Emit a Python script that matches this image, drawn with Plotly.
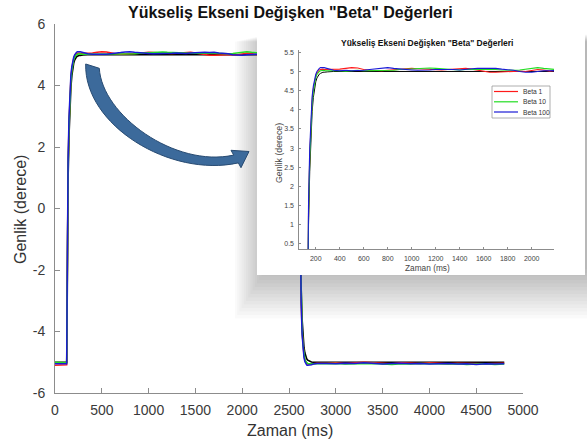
import plotly.graph_objects as go

W, H = 587, 445
FONT = "Liberation Sans, Arial, sans-serif"

# ---------------- data ----------------
series_names = ["Beta 1", "Beta 10", "Beta 100"]
series_colors = ["#ff1a1a", "#22dd22", "#1a1ad6"]
reference_color = "#000000"

time_rise = [0, 60, 125, 130, 135, 140, 150, 160, 170, 180, 190, 200, 210,
             220, 230, 240, 250, 260, 270, 280, 290]
time_high = [300, 350, 400, 450, 500, 550, 600, 650, 700, 750,
             800, 850, 900, 950, 1000, 1050, 1100, 1150, 1200, 1250,
             1300, 1350, 1400, 1450, 1500, 1550, 1600, 1650, 1700, 1750,
             1800, 1850, 1900, 1950, 2000, 2050, 2100, 2150, 2200, 2250,
             2300, 2350, 2400, 2450, 2500, 2550, 2600]
time_fall = [2610, 2620, 2630, 2640, 2650, 2660, 2670, 2680, 2690, 2700,
             2720, 2740, 2760, 2780, 2800]
time_low = [2900, 3000, 3100, 3200, 3300, 3400, 3500, 3600, 3700, 3800,
            3900, 4000, 4100, 4200, 4300, 4400, 4500, 4600, 4700, 4800]

# Beta 1 (red)
beta1_rise = [-5.10, -5.08, -5.08, -2.8, 0.0, 1.4, 2.8, 3.7, 4.25, 4.55, 4.75,
              4.88, 4.96, 5.01, 5.04, 5.05, 5.06, 5.06, 5.05, 5.05, 5.05]
beta1_high = [5.05, 5.05, 5.06, 5.08, 5.10, 5.09, 5.05, 5.03, 5.02, 5.02,
              5.03, 5.04, 5.05, 5.07, 5.08, 5.07, 5.06, 5.05, 5.05, 5.04,
              5.05, 5.06, 5.07, 5.08, 5.06, 5.03, 5.00, 4.98, 4.98, 4.99,
              5.00, 5.00, 5.01, 5.00, 5.02, 5.05, 5.04, 5.01, 5.02, 5.04,
              5.06, 5.03, 5.04, 5.02, 5.05, 5.03, 5.03]
beta1_fall = [3.5, -1.4, -3.0, -4.0, -4.5, -4.78, -4.92, -5.0, -5.04, -5.06,
              -5.07, -5.06, -5.05, -5.04, -5.03]
beta1_low = [-5.03, -5.02, -5.04, -5.03, -5.00, -5.02, -5.03, -5.05, -5.02, -5.03,
             -5.04, -5.02, -5.03, -5.05, -5.03, -5.04, -5.03, -5.05, -5.04, -5.03]

# Beta 10 (green)
beta10_rise = [-5.00, -5.02, -5.02, -2.9, -0.1, 1.3, 2.7, 3.6, 4.15, 4.48, 4.70,
               4.84, 4.92, 4.97, 5.00, 5.02, 5.03, 5.03, 5.03, 5.02, 5.02]
beta10_high = [5.03, 5.02, 5.02, 5.01, 5.02, 5.03, 5.02, 5.02, 5.03, 5.02,
               5.02, 5.03, 5.05, 5.06, 5.07, 5.07, 5.08, 5.09, 5.08, 5.07,
               5.06, 5.05, 5.04, 5.05, 5.05, 5.06, 5.05, 5.06, 5.05, 5.04,
               5.03, 5.03, 5.04, 5.06, 5.09, 5.10, 5.08, 5.06, 5.05, 5.07,
               5.08, 5.06, 5.05, 5.04, 5.06, 5.08, 5.05]
beta10_fall = [3.6, -1.2, -2.9, -3.9, -4.45, -4.74, -4.9, -4.98, -5.02, -5.04,
               -5.05, -5.05, -5.04, -5.03, -5.03]
beta10_low = [-5.05, -5.04, -5.06, -5.05, -5.03, -5.04, -5.06, -5.07, -5.05, -5.06,
              -5.04, -5.05, -5.07, -5.06, -5.05, -5.07, -5.06, -5.05, -5.07, -5.06]

# Beta 100 (blue)
beta100_rise = [-5.05, -5.05, -5.05, -2.5, 0.2, 1.6, 3.0, 3.85, 4.35, 4.62, 4.80,
                4.92, 5.00, 5.05, 5.08, 5.10, 5.11, 5.10, 5.10, 5.09, 5.08]
beta100_high = [5.06, 5.03, 5.02, 5.03, 5.02, 5.02, 5.03, 5.05, 5.07, 5.09,
                5.10, 5.08, 5.06, 5.05, 5.04, 5.03, 5.03, 5.04, 5.05, 5.05,
                5.06, 5.05, 5.04, 5.06, 5.07, 5.08, 5.08, 5.07, 5.08, 5.06,
                5.05, 5.03, 5.00, 4.98, 4.98, 5.00, 5.02, 5.02, 5.03, 5.04,
                5.03, 5.02, 5.04, 5.03, 5.02, 5.03, 5.02]
beta100_fall = [3.3, -1.6, -3.1, -4.1, -4.6, -4.85, -4.98, -5.05, -5.09, -5.10,
                -5.10, -5.08, -5.06, -5.05, -5.04]
beta100_low = [-5.04, -5.05, -5.03, -5.04, -5.02, -5.05, -5.06, -5.04, -5.03, -5.05,
               -5.04, -5.06, -5.05, -5.04, -5.06, -5.05, -5.07, -5.05, -5.06, -5.05]

# reference (black)
ref_rise = [-5.00, -5.00, -5.00, -3.2, -0.4, 1.0, 2.4, 3.35, 3.95, 4.32, 4.57,
            4.73, 4.83, 4.89, 4.93, 4.95, 4.97, 4.98, 4.98, 4.99, 4.99]
ref_high = [4.99, 5.00, 5.00, 5.00, 5.00, 5.00, 5.01, 5.00, 5.00, 5.00,
            5.01, 5.00, 5.00, 5.00, 5.00, 5.01, 5.00, 5.00, 5.00, 5.00,
            5.01, 5.00, 5.00, 5.00, 5.00, 5.00, 5.01, 5.00, 5.00, 5.00,
            5.00, 5.00, 5.01, 5.00, 5.00, 5.00, 5.00, 5.00, 5.01, 5.00,
            5.00, 5.00, 5.00, 5.00, 5.01, 5.00, 5.00]
ref_fall = [3.8, -0.9, -2.6, -3.6, -4.2, -4.52, -4.7, -4.82, -4.89, -4.93,
            -4.97, -4.99, -5.00, -5.00, -5.00]
ref_low = [-5.00, -5.00, -4.99, -5.00, -4.98, -5.00, -4.99, -4.98, -5.00, -5.00,
           -4.99, -5.00, -5.00, -4.99, -5.00, -5.00, -4.99, -5.00, -5.00, -5.00]

main_title = 'Yükseliş Ekseni Değişken "Beta" Değerleri'
x_title = "Zaman (ms)"
y_title = "Genlik (derece)"

main_xticks = [0, 500, 1000, 1500, 2000, 2500, 3000, 3500, 4000, 4500, 5000]
main_yticks = [-6, -4, -2, 0, 2, 4, 6]
main_yticklabels = ["-6", "-4", "-2", "0", "2", "4", "6"]
inset_xticks = [200, 400, 600, 800, 1000, 1200, 1400, 1600, 1800, 2000]
inset_yticks = [0.5, 1, 1.5, 2, 2.5, 3, 3.5, 4, 4.5, 5, 5.5]
inset_yticklabels = ["0.5", "1", "1.5", "2", "2.5", "3", "3.5", "4", "4.5", "5", "5.5"]

# ---------------- assemble ----------------
time_ms = time_rise + time_high + time_fall + time_low
beta_series = [
    beta1_rise + beta1_high + beta1_fall + beta1_low,
    beta10_rise + beta10_high + beta10_fall + beta10_low,
    beta100_rise + beta100_high + beta100_fall + beta100_low,
]
ref_series = ref_rise + ref_high + ref_fall + ref_low
for s in beta_series + [ref_series]:
    assert len(s) == len(time_ms), (len(s), len(time_ms))


def fx(px):
    return px / W


def fy(py):
    return 1 - py / H


fig = go.Figure()

# main plot traces (x, y)
fig.add_trace(go.Scatter(x=time_ms, y=ref_series, mode="lines", xaxis="x", yaxis="y",
                         line=dict(color=reference_color, width=1.6), showlegend=False,
                         hoverinfo="skip"))
for name, col, vals in zip(series_names, series_colors, beta_series):
    fig.add_trace(go.Scatter(x=time_ms, y=vals, mode="lines", name=name, xaxis="x", yaxis="y",
                             line=dict(color=col, width=1.5), showlegend=False))

# empty trace for the inset background subplot (x2, y2)
fig.add_trace(go.Scatter(x=[], y=[], xaxis="x2", yaxis="y2", showlegend=False, hoverinfo="skip"))

# inset traces (x3, y3)
fig.add_trace(go.Scatter(x=time_ms, y=ref_series, mode="lines", xaxis="x3", yaxis="y3",
                         line=dict(color=reference_color, width=1.0), showlegend=False,
                         hoverinfo="skip"))
for name, col, vals in zip(series_names, series_colors, beta_series):
    fig.add_trace(go.Scatter(x=time_ms, y=vals, mode="lines", name=name, xaxis="x3", yaxis="y3",
                             line=dict(color=col, width=1.1), showlegend=False))

axis_grey = "#8c8c8c"
tick_col = "#3a3a3a"

shapes = []
# soft drop shadow of the inset (under everything)
for i in range(1, 16):
    shapes.append(dict(type="rect", xref="paper", yref="paper", layer="below",
                       x0=fx(268 - 2.2 * i), x1=fx(600), y0=fy(266 + 3.5 * i), y1=fy(34 + 0.5 * i),
                       fillcolor="rgba(0,0,0,0.02)", line=dict(width=0)))
# white inset panel (drawn in subplot x2y2, above the main traces)
shapes.append(dict(type="rect", xref="x2", yref="y2", layer="below",
                   x0=0, x1=1, y0=0, y1=1, fillcolor="white", line=dict(width=0)))


# curved arrow
def P(x, y):
    return f"{fx(x):.5f},{fy(y):.5f}"


arrow_path = (
    f"M {P(85.7, 64)} C {P(84, 125)} {P(170, 178)} {P(238.3, 162.9)} "
    f"L {P(241, 167.7)} L {P(249, 151.5)} L {P(231, 150.3)} L {P(233.7, 155.1)} "
    f"C {P(175, 168)} {P(102, 115)} {P(99.3, 68.3)} Z"
)
shapes.append(dict(type="path", xref="paper", yref="paper", layer="above", path=arrow_path,
                   fillcolor="#3c6a9b", line=dict(color="#284b72", width=1)))

# inset legend box + sample lines
lg_x0, lg_x1, lg_y0, lg_y1 = 492, 550, 86, 118
shapes.append(dict(type="rect", xref="paper", yref="paper", layer="above",
                   x0=fx(lg_x0), x1=fx(lg_x1), y0=fy(lg_y1), y1=fy(lg_y0),
                   fillcolor="white", line=dict(color="#9a9a9a", width=0.8)))
legend_rows = [91.5, 101.8, 112.0]
annotations = []
for name, col, ry in zip(series_names, series_colors, legend_rows):
    shapes.append(dict(type="line", xref="paper", yref="paper", layer="above",
                       x0=fx(494), x1=fx(518), y0=fy(ry), y1=fy(ry),
                       line=dict(color=col, width=1.2)))
    annotations.append(dict(x=fx(520.5), y=fy(ry), xref="paper", yref="paper", text=name,
                            showarrow=False, xanchor="left", yanchor="middle",
                            font=dict(size=6.7, color="#333333", family=FONT)))

# titles
annotations += [
    dict(x=fx(290), y=fy(12), xref="paper", yref="paper", text=f"<b>{main_title}</b>",
         showarrow=False, xanchor="center", yanchor="middle",
         font=dict(size=16, color="#111111", family=FONT)),
    dict(x=fx(290), y=fy(430), xref="paper", yref="paper", text=x_title,
         showarrow=False, xanchor="center", yanchor="middle",
         font=dict(size=16, color="#333333", family=FONT)),
    dict(x=fx(20), y=fy(210), xref="paper", yref="paper", text=y_title, textangle=-90,
         showarrow=False, xanchor="center", yanchor="middle",
         font=dict(size=16, color="#333333", family=FONT)),
    dict(x=fx(427), y=fy(43), xref="paper", yref="paper", text=f"<b>{main_title}</b>",
         showarrow=False, xanchor="center", yanchor="middle",
         font=dict(size=8.5, color="#111111", family=FONT)),
    dict(x=fx(427), y=fy(268), xref="paper", yref="paper", text=x_title,
         showarrow=False, xanchor="center", yanchor="middle",
         font=dict(size=8.3, color="#444444", family=FONT)),
    dict(x=fx(279), y=fy(153), xref="paper", yref="paper", text=y_title, textangle=-90,
         showarrow=False, xanchor="center", yanchor="middle",
         font=dict(size=8.8, color="#444444", family=FONT)),
]

fig.update_layout(
    width=W, height=H,
    margin=dict(l=0, r=0, t=0, b=0, pad=0, autoexpand=False),
    paper_bgcolor="white", plot_bgcolor="white",
    font=dict(family=FONT),
    showlegend=False,
    hovermode=False,
    xaxis=dict(domain=[fx(55), fx(523)], range=[0, 5000], anchor="y",
               tickmode="array", tickvals=main_xticks, automargin=False,
               ticks="inside", ticklen=5, tickcolor=axis_grey, tickwidth=1,
               showline=True, linecolor=axis_grey, linewidth=1, mirror=False,
               showgrid=False, zeroline=False, ticklabelstandoff=4,
               tickfont=dict(size=14, color=tick_col, family=FONT)),
    yaxis=dict(domain=[fy(393), fy(24)], range=[-6, 6], anchor="x",
               tickmode="array", tickvals=main_yticks, ticktext=main_yticklabels,
               automargin=False,
               ticks="inside", ticklen=5, tickcolor=axis_grey, tickwidth=1,
               showline=True, linecolor=axis_grey, linewidth=1, mirror=False,
               showgrid=False, zeroline=False, ticklabelstandoff=6,
               tickfont=dict(size=14, color=tick_col, family=FONT)),
    xaxis2=dict(domain=[fx(257), fx(585)], range=[0, 1], anchor="y2", visible=False,
                fixedrange=True, automargin=False),
    yaxis2=dict(domain=[fy(275), fy(30)], range=[0, 1], anchor="x2", visible=False,
                fixedrange=True, automargin=False),
    xaxis3=dict(domain=[fx(299.3), fx(554)], range=[63, 2186], anchor="y3",
                tickmode="array", tickvals=inset_xticks, automargin=False,
                ticks="inside", ticklen=2, tickcolor=axis_grey, tickwidth=0.8,
                showline=True, linecolor=axis_grey, linewidth=0.8, mirror=False,
                showgrid=False, zeroline=False, ticklabelstandoff=2,
                tickfont=dict(size=7, color="#444444", family=FONT)),
    yaxis3=dict(domain=[fy(249.3), fy(50)], range=[0.36, 5.56], anchor="x3",
                tickmode="array", tickvals=inset_yticks, ticktext=inset_yticklabels,
                automargin=False,
                ticks="inside", ticklen=2, tickcolor=axis_grey, tickwidth=0.8,
                showline=True, linecolor=axis_grey, linewidth=0.8, mirror=False,
                showgrid=False, zeroline=False, ticklabelstandoff=3,
                tickfont=dict(size=7, color="#444444", family=FONT)),
    shapes=shapes,
    annotations=annotations,
)

fig.write_html("out.html",
               config={"displayModeBar": False},
               post_script="document.body.style.margin='0';document.body.style.overflow='hidden';")
